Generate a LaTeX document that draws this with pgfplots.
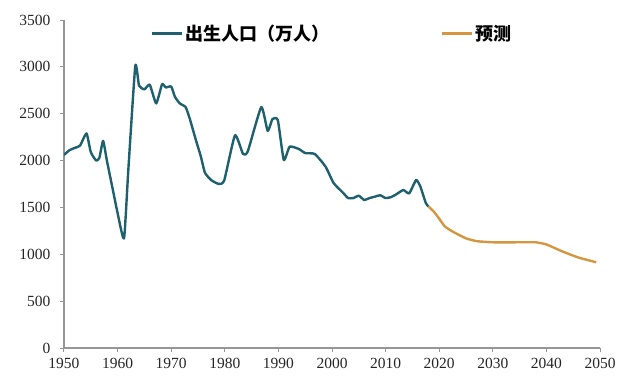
\documentclass[border=0pt]{standalone}
\usepackage{pgfplots}
\pgfplotsset{compat=1.18}
\usepackage{fontspec}
\setmainfont{Liberation Serif}
\newfontfamily\cjk{Noto Sans CJK SC}
\definecolor{teal1}{RGB}{30,96,110}
\definecolor{orng}{RGB}{212,150,62}
\definecolor{axgray}{RGB}{150,150,150}
\begin{document}
\begin{tikzpicture}
\path[use as bounding box] (-64bp,-43bp) rectangle (576bp,348bp);
\begin{axis}[
  at={(0,0)}, anchor=south west,
  scale only axis=true,
  width=536bp, height=328bp,
  xmin=1950, xmax=2050, ymin=0, ymax=3500,
  xtick={1950,1960,...,2050},
  ytick={0,500,...,3500},
  axis x line*=bottom, axis y line*=left,
  axis line style={draw=axgray, line width=1.3bp},
  tick style={draw=axgray, line width=1bp},
  tick align=outside, major tick length=4bp,
  /pgf/number format/assume math mode=true,
  /pgf/number format/set thousands separator={},
  ticklabel style={font=\fontsize{15.5bp}{17bp}\selectfont, text=black!85},
  xticklabel style={yshift=-3bp},
  yticklabel style={xshift=-6bp},
  legend columns=2,
  legend style={draw=none, fill=none, at={(0.5,0.995)}, anchor=north,
    font=\cjk\bfseries\fontsize{18bp}{20bp}\selectfont,
    /tikz/every even column/.append style={column sep=110bp},
    inner sep=1bp},
  legend image code/.code={\draw[#1] (0bp,0bp) -- (30bp,0bp);},
]
\addplot[teal1, line width=2.4bp, smooth, tension=0.3, line join=round] coordinates {
(1950,2060) (1951,2110) (1952,2135) (1953,2160) (1954.2,2290) (1955,2090)
(1956,2000) (1956.6,2030) (1957.3,2210) (1958,2000) (1959,1720) (1960,1440)
(1961.2,1170) (1962,1900) (1963.3,3010) (1964,2800) (1965,2760) (1966,2810)
(1967.2,2610) (1968.3,2815) (1969,2780) (1970,2790) (1970.7,2680) (1971.6,2610)
(1972.7,2570) (1973.5,2440) (1974.6,2220) (1975.5,2050) (1976.3,1870) (1977.5,1790)
(1978.9,1750) (1979.9,1790) (1981.9,2270) (1983.4,2070) (1984.3,2100) (1986.8,2570)
(1988,2316) (1988.9,2444) (1989.9,2430) (1991,2006) (1992.1,2148) (1993.8,2124)
(1995,2080) (1996.8,2070) (1998.8,1935) (2000.3,1760) (2002,1660) (2003,1600)
(2004,1600) (2005,1625) (2006,1580) (2007,1600) (2008,1615) (2009,1630)
(2010,1600) (2011,1610) (2012,1640) (2013.3,1686) (2014.4,1650) (2015.7,1793)
(2016.5,1720) (2017.5,1547) (2018,1510)
};
\addlegendentry{出生人口（万人）}
\addplot[orng, line width=2.4bp, smooth, tension=0.3, line join=round] coordinates {
(2018,1510) (2019,1455) (2020,1380) (2021,1300) (2022,1260) (2023,1227)
(2025,1170) (2027,1140) (2030,1128) (2035,1128) (2038,1128) (2040,1105)
(2043,1030) (2046,965) (2049.3,915)
};
\addlegendentry{预测}
\end{axis}
\end{tikzpicture}
\end{document}
